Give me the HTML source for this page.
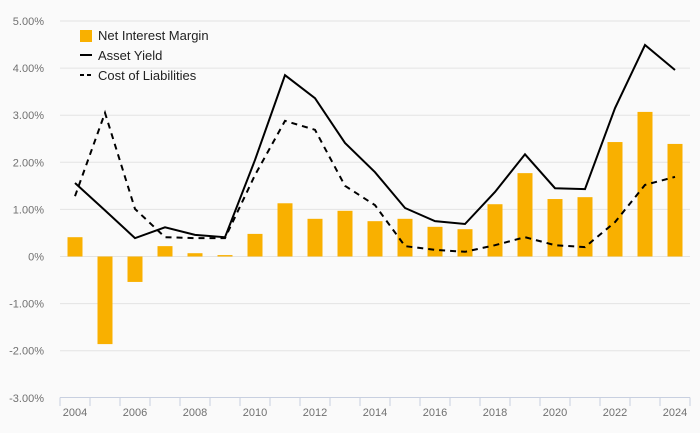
<!DOCTYPE html>
<html><head><meta charset="utf-8"><style>
body{margin:0;background:#fafafa;}
svg{display:block;font-family:"Liberation Sans",sans-serif;}
</style></head><body>
<svg id="chart" width="700" height="433"></svg>
<script>
const years=[2004,2005,2006,2007,2008,2009,2010,2011,2012,2013,2014,2015,2016,2017,2018,2019,2020,2021,2022,2023,2024];
const nim=[0.41,-1.86,-0.54,0.22,0.07,0.03,0.48,1.13,0.80,0.97,0.75,0.80,0.63,0.58,1.11,1.77,1.22,1.26,2.43,3.07,2.39];
const assetYield=[1.56,0.98,0.39,0.62,0.46,0.41,2.05,3.85,3.36,2.41,1.79,1.03,0.75,0.69,1.37,2.17,1.45,1.43,3.15,4.49,3.96];
const costLiab=[1.28,3.05,1.01,0.41,0.39,0.39,1.73,2.88,2.69,1.50,1.09,0.22,0.14,0.10,0.24,0.41,0.24,0.20,0.73,1.52,1.69];
const yTicks=[5,4,3,2,1,0,-1,-2,-3];
const xLabels=[2004,2006,2008,2010,2012,2014,2016,2018,2020,2022,2024];
const NS="http://www.w3.org/2000/svg";
const svg=document.getElementById('chart');
const x0=60,step=30;
const xs=y=>x0+15+(y-years[0])*step;
const ys=v=>256.5-v*47.1;
function mk(t,a,p){const e=document.createElementNS(NS,t);for(const k in a)e.setAttribute(k,a[k]);(p||svg).appendChild(e);return e;}
yTicks.forEach(t=>{
  if(t!==-3){const l=mk('line',{x1:60,x2:690,y1:ys(t),y2:ys(t),stroke:'#e3e3e3','stroke-width':1});
  
  }
  const tx=mk('text',{x:44,y:ys(t)+4,'text-anchor':'end','font-size':11,fill:'#707070'});
  tx.textContent=t===0?'0%':t.toFixed(2)+'%';
  
  
});
const ax=mk('line',{x1:60,x2:690,y1:397.5,y2:397.5,stroke:'#c8d0e0','stroke-width':1});


for(let i=0;i<=years.length;i++){mk('line',{x1:x0+i*step,x2:x0+i*step,y1:397.5,y2:406,stroke:'#c8d0e0'});}
xLabels.forEach(y=>{const t=mk('text',{x:xs(y),y:416,'text-anchor':'middle','font-size':11,fill:'#707070'});t.textContent=y;

});
years.forEach((y,i)=>{const v=nim[i];const r=mk('rect',{x:xs(y)-7.5,width:15,y:Math.min(ys(v),ys(0)),height:Math.abs(ys(v)-ys(0)),fill:'#f9b000'});

});
const pts=a=>a.map((v,i)=>xs(years[i])+','+ys(v)).join(' ');
const l1=mk('polyline',{points:pts(assetYield),fill:'none',stroke:'#000','stroke-width':2});


const l2=mk('polyline',{points:pts(costLiab),fill:'none',stroke:'#000','stroke-width':2,'stroke-dasharray':'6,5'});


const lg=mk('g',{});


mk('rect',{x:80,y:30,width:12,height:12,fill:'#f9b000'},lg);
mk('line',{x1:80,x2:92,y1:55,y2:55,stroke:'#000','stroke-width':2},lg);
mk('line',{x1:80,x2:92,y1:75,y2:75,stroke:'#000','stroke-width':2,'stroke-dasharray':'4,3'},lg);
[['Net Interest Margin',40],['Asset Yield',60],['Cost of Liabilities',80]].forEach(([s,y])=>{const t=mk('text',{x:98,y:y,'font-size':13,fill:'#222'},lg);t.textContent=s;

});
</script>
</body></html>
